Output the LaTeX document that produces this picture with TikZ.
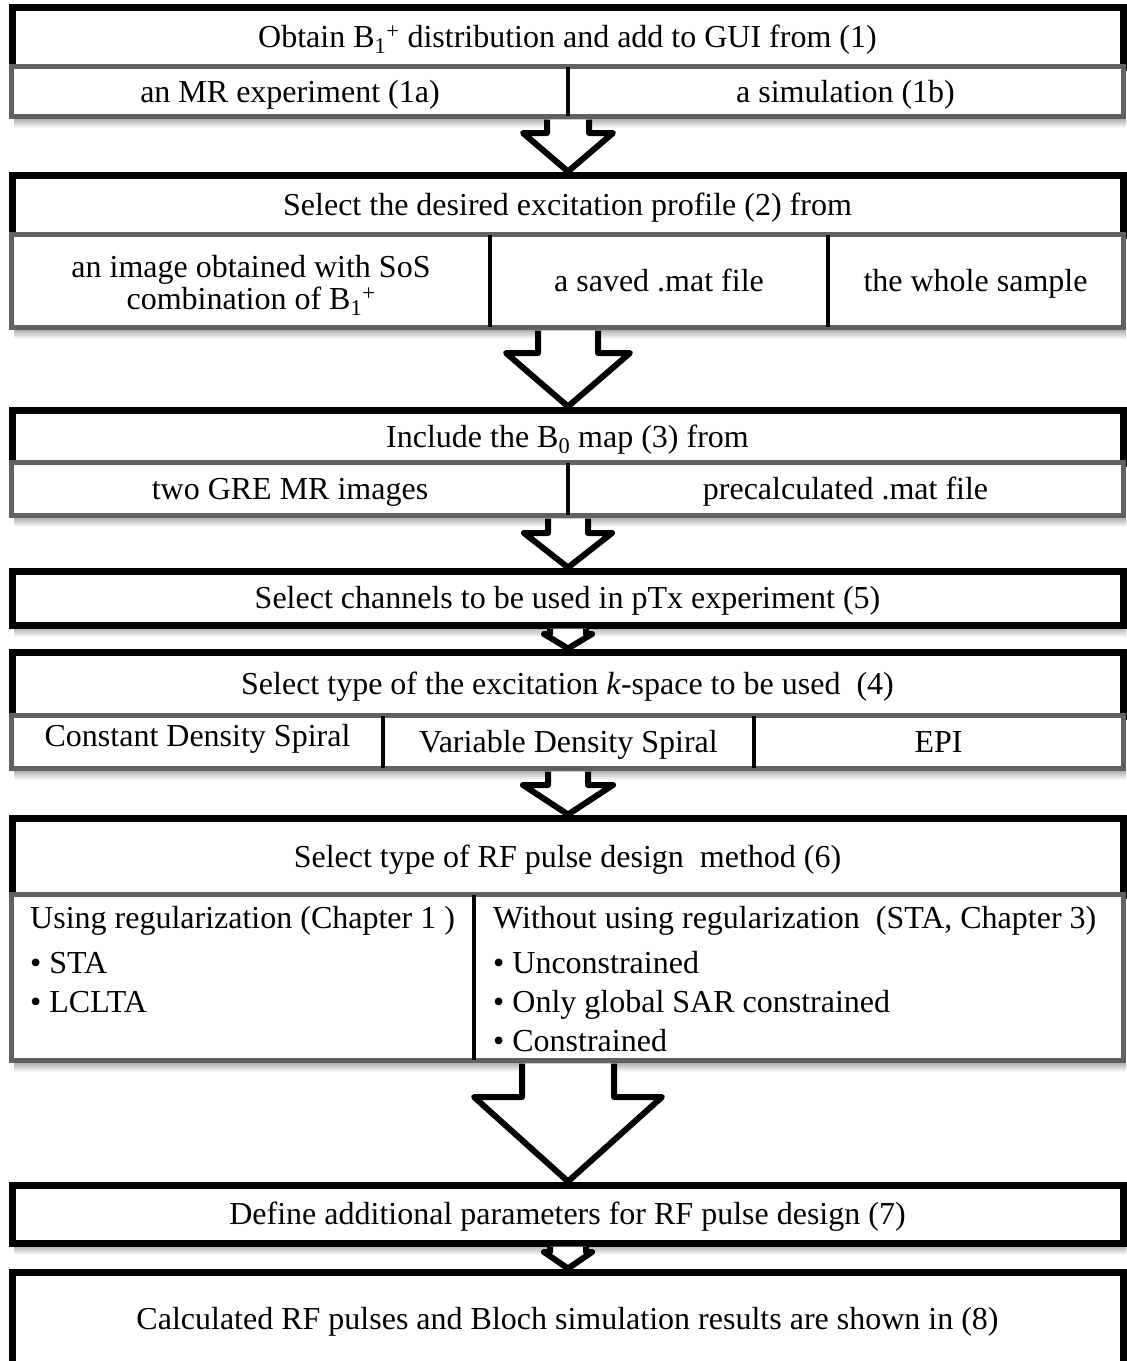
\documentclass[tikz,border=0pt]{standalone}
\usepackage{fontspec}
\setmainfont{Liberation Serif}
\usetikzlibrary{calc}
\begin{document}
\begin{tikzpicture}[x=1pt,y=-1pt,
  every node/.style={font=\fontsize{32}{32}\selectfont},
  fixt/.style={text height=28pt, text depth=7pt},
  hdr/.style={draw=black, line width=7pt, fill=white, minimum width=1111pt, inner sep=0pt, fixt},
  cell/.style={inner sep=0pt, fill=white, fixt},
  cellml/.style={inner sep=0pt, fill=white},
  subrow/.style={draw=black!62, line width=5pt},
  divider/.style={draw=black, line width=4pt},
  barrow/.style={draw=black, fill=white, line width=6pt, line join=round},
  lefttext/.style={anchor=base west, inner sep=0pt}
]
\useasboundingbox (0,0) rectangle (1127,1361);
\clip (0,0) rectangle (1127,1361);
\fill[white] (0,0) rectangle (1127,1361);

% shadows
\foreach \yb in {116,327,515,625,768,1060,1243}{
  \shade[top color=black!30, bottom color=white] (14,\yb+3) rectangle (1126,\yb+12);
}

% ---------- Box 1 ----------
\node[hdr, minimum height=59.5pt] (b1) at (567.5,37.25) {Obtain B\textsubscript{1}\textsuperscript{+} distribution and add to GUI from (1)};
\node[cell, minimum width=556pt, minimum height=49pt] (b1a) at (290,91.5) {an MR experiment (1a)};
\node[cell, minimum width=555pt, minimum height=49pt] (b1b) at (845.5,91.5) {a simulation (1b)};
\draw[subrow] (b1a.north west) rectangle (b1b.south east);
\draw[divider] (b1a.north east) -- (b1a.south east);
\coordinate (b1s) at (568,116);

% ---------- Box 2 ----------
\node[hdr, minimum height=60pt] (b2) at (567.5,205) {Select the desired excitation profile (2) from};
\node[cellml, minimum width=478pt, minimum height=92pt] (b2a) at (251,281) {\raisebox{-12pt}[0pt][0pt]{\begin{tabular}{@{}c@{}}an image obtained with SoS\\combination of B\textsubscript{1}\textsuperscript{+}\end{tabular}}};
\node[cell, minimum width=338pt, minimum height=92pt] (b2b) at (659,281) {a saved .mat file};
\node[cell, minimum width=295pt, minimum height=92pt] (b2c) at (975.5,281) {the whole sample};
\draw[subrow] (b2a.north west) rectangle (b2c.south east);
\draw[divider] (b2a.north east) -- (b2a.south east);
\draw[divider] (b2b.north east) -- (b2b.south east);
\coordinate (b2s) at (568,327);

% ---------- Box 3 ----------
\node[hdr, minimum height=53pt] (b3) at (567.5,436.5) {Include the B\textsubscript{0} map (3) from};
\node[cell, minimum width=556pt, minimum height=52pt] (b3a) at (290,489) {two GRE MR images};
\node[cell, minimum width=555pt, minimum height=52pt] (b3b) at (845.5,489) {precalculated .mat file};
\draw[subrow] (b3a.north west) rectangle (b3b.south east);
\draw[divider] (b3a.north east) -- (b3a.south east);
\coordinate (b3s) at (568,515);

% ---------- Box 4 ----------
\node[hdr, minimum height=54pt] (b4) at (567.5,598) {Select channels to be used in pTx experiment (5)};
\coordinate (b4s) at (568,625);

% ---------- Box 5 ----------
\node[hdr, minimum height=64pt] (b5) at (567.5,684) {Select type of the excitation \textit{k}-space to be used\ \ (4)};
\node[cell, minimum width=371pt, minimum height=52pt] (b5a) at (197.5,742) {\raisebox{6pt}{Constant Density Spiral}};
\node[cell, minimum width=371pt, minimum height=52pt] (b5b) at (568.5,742) {Variable Density Spiral};
\node[cell, minimum width=369pt, minimum height=52pt] (b5c) at (938.5,742) {EPI};
\draw[subrow] (b5a.north west) rectangle (b5c.south east);
\draw[divider] (b5a.north east) -- (b5a.south east);
\draw[divider] (b5b.north east) -- (b5b.south east);
\coordinate (b5s) at (568,768);

% ---------- Box 6 ----------
\node[hdr, minimum height=77pt] (b6) at (567.5,856.5) {Select type of RF pulse design\ \ method (6)};
\node[cell, minimum width=462pt, minimum height=165pt] (b6a) at (243,977.5) {};
\node[cell, minimum width=649pt, minimum height=165pt] (b6b) at (798.5,977.5) {};
\draw[subrow] (b6a.north west) rectangle (b6b.south east);
\draw[divider] (b6a.north east) -- (b6a.south east);
\coordinate (b6s) at (568,1060);
\node[lefttext] (l1) at (30,928) {Using regularization (Chapter 1 )};
\node[lefttext] (l2) at (30,973) {\textbullet\ STA};
\node[lefttext] (l3) at (30,1012) {\textbullet\ LCLTA};
\node[lefttext] (r1) at (493,928) {Without using regularization\ \ (STA, Chapter 3)};
\node[lefttext] (r2) at (493,973) {\textbullet\ Unconstrained};
\node[lefttext] (r3) at (493,1012) {\textbullet\ Only global SAR constrained};
\node[lefttext] (r4) at (493,1051) {\textbullet\ Constrained};

% ---------- Box 7 ----------
\node[hdr, minimum height=58pt] (b7) at (567.5,1214) {Define additional parameters for RF pulse design (7)};
\coordinate (b7s) at (568,1243);

% ---------- Box 8 ----------
\node[hdr, minimum height=94pt] (b8) at (567.5,1319) {Calculated RF pulses and Bloch simulation results are shown in (8)};

% ---------- block arrows ----------
% #1 from coordinate, #2 to node, #3 shaft half, #4 head top offset, #5 head half
\newcommand\blockarr[5]{%
  \draw[barrow] ($(#1)+(-#3,3.5)$) -- ($(#1)+(-#3,#4)$) -- ($(#1)+(-#5,#4)$)
    -- ($(#2.north)+(0.5,0)$) -- ($(#1)+(#5,#4)$) -- ($(#1)+(#3,#4)$) -- ($(#1)+(#3,3.5)$);}
\blockarr{b1s}{b2}{21}{17}{45}
\blockarr{b2s}{b3}{30}{26}{62}
\blockarr{b3s}{b4}{20}{18}{44}
\blockarr{b4s}{b5}{18}{9}{24}
\blockarr{b5s}{b6}{20}{17}{45}
\blockarr{b6s}{b7}{46}{37}{94}
\blockarr{b7s}{b8}{18}{9}{24}
\end{tikzpicture}
\end{document}
